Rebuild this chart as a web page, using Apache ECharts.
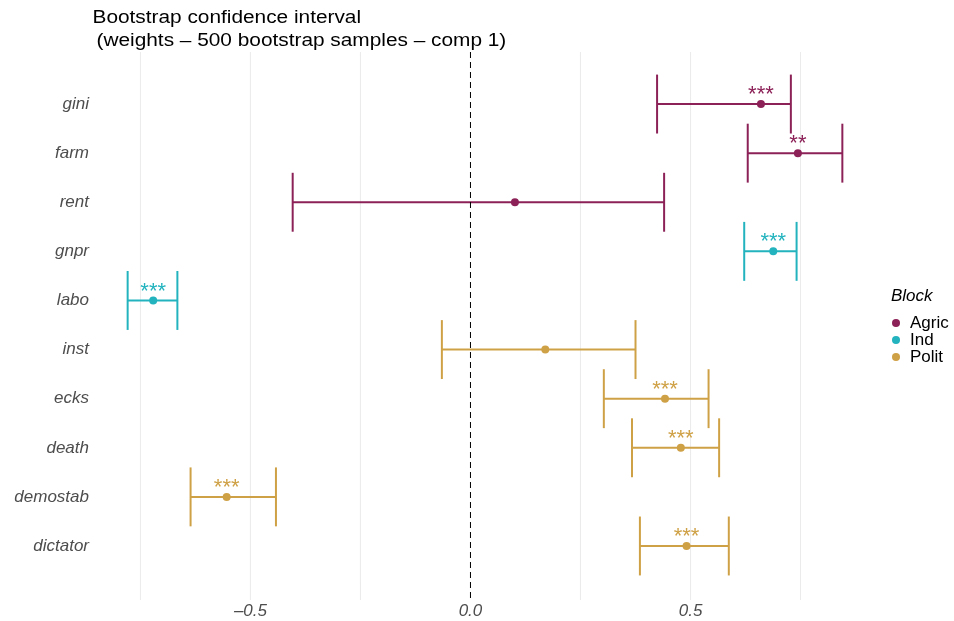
<!DOCTYPE html>
<html>
<head>
<meta charset="utf-8">
<script src="https://cdn.jsdelivr.net/npm/echarts@6/dist/echarts.min.js"></script>
<style>html,body{margin:0;padding:0;background:#fff;}#c{width:954px;height:621px;}</style>
</head>
<body>
<div id="c"></div>
<script>
var categories = ['gini','farm','rent','gnpr','labo','inst','ecks','death','demostab','dictator'];
var blocks = ['Agric','Agric','Agric','Ind','Ind','Polit','Polit','Polit','Polit','Polit'];
var estimates = [0.660, 0.744, 0.101, 0.688, -0.721, 0.170, 0.442, 0.478, -0.554, 0.491];
var lowers = [0.424, 0.630, -0.404, 0.622, -0.779, -0.065, 0.303, 0.367, -0.636, 0.385];
var uppers = [0.728, 0.845, 0.440, 0.741, -0.666, 0.375, 0.541, 0.565, -0.442, 0.587];
var stars = ['***','**','','***','***','','***','***','***','***'];
var blockNames = ['Agric','Ind','Polit'];
var blockColors = {Agric:'#8C2157', Ind:'#22B3BE', Polit:'#CFA146'};
var xTicks = [-0.5, 0.0, 0.5];
var gridLines = [-0.75, -0.5, -0.25, 0.25, 0.5, 0.75];
var refLine = 0;
var titleLine1 = 'Bootstrap confidence interval';
var titleLine2 = '(weights \u2013 500 bootstrap samples \u2013 comp 1)';
var legendTitle = 'Block';

var FONT = '"Liberation Sans", Arial, sans-serif';
var chart = echarts.init(document.getElementById('c'), null, {renderer:'canvas'});

function errRender(params, api){
  var lo = api.value(0), hi = api.value(1), y = api.value(2);
  var p1 = api.coord([lo, y]), p2 = api.coord([hi, y]);
  var h = api.size([0, 1])[1] * 0.6;
  var st = {stroke: api.visual('color'), lineWidth: 2};
  return {type:'group', children:[
    {type:'line', shape:{x1:p1[0], y1:p1[1], x2:p2[0], y2:p2[1]}, style:st},
    {type:'line', shape:{x1:p1[0], y1:p1[1]-h, x2:p1[0], y2:p1[1]+h}, style:st},
    {type:'line', shape:{x1:p2[0], y1:p2[1]-h, x2:p2[0], y2:p2[1]+h}, style:st}
  ]};
}
function vlineRender(color, dash){
  return function(params, api){
    var x = api.coord([api.value(0), 0])[0];
    var cs = params.coordSys;
    return {type:'line', shape:{x1:x, y1:cs.y, x2:x, y2:cs.y+cs.height},
      style:{stroke:color, lineWidth:1, lineDash:dash}};
  };
}

var series = [];
series.push({type:'custom', name:'_grid', silent:true, z:0, animation:false,
  renderItem: vlineRender('#EBEBEB', null),
  data: gridLines.map(function(v){return [v, 0];}), encode:{x:0, y:1}});
blockNames.forEach(function(b){
  var errData = [];
  for (var i=0;i<categories.length;i++){
    if (blocks[i] === b) errData.push([lowers[i], uppers[i], i]);
  }
  series.push({type:'custom', name:b, renderItem:errRender, data:errData, z:2,
    itemStyle:{color:blockColors[b]}, encode:{x:[0,1], y:2}, animation:false});
});
series.push({type:'custom', name:'_ref', silent:true, z:3, animation:false,
  renderItem: vlineRender('#000000', [6,4]),
  data: [[refLine, 0]], encode:{x:0, y:1}});
blockNames.forEach(function(b){
  var ptData = [];
  for (var i=0;i<categories.length;i++){
    if (blocks[i] === b) ptData.push({value:[estimates[i], i], label:{formatter: stars[i]}});
  }
  series.push({type:'scatter', name:b, data:ptData, symbolSize:8, z:4,
    itemStyle:{color:blockColors[b], opacity:1}, animation:false,
    label:{show:true, position:'top', distance:-6, color:blockColors[b],
      fontSize:22, fontFamily:FONT}});
});

chart.setOption({
  backgroundColor:'#fff',
  animation:false,
  graphic:[
    {type:'text', x:92.5, y:18.5, scaleX:1.19, style:{text:titleLine1, font:'17.5px '+FONT, fill:'#000', verticalAlign:'middle'}},
    {type:'text', x:96.5, y:41.5, scaleX:1.19, style:{text:titleLine2, font:'17.5px '+FONT, fill:'#000', verticalAlign:'middle'}},
    {type:'text', x:891, y:296, style:{text:legendTitle, font:'italic 17px '+FONT, fill:'#000', verticalAlign:'middle'}}
  ],
  legend:{
    data: blockNames.map(function(n){return {name:n, icon:'circle'};}),
    orient:'vertical', left:892, top:314.5, padding:0, itemWidth:8, itemHeight:8, itemGap:0,
    textStyle:{fontSize:17, fontFamily:FONT, color:'#000', lineHeight:16, padding:[0,0,0,5]}
  },
  grid:{left:92, right:76, top:52, bottom:21, containLabel:false},
  xAxis:{
    type:'value', min:-0.86, max:0.926,
    axisLine:{show:false}, axisTick:{show:false}, splitLine:{show:false},
    axisLabel:{customValues:xTicks, margin:3, color:'#4D4D4D', fontSize:17, fontStyle:'italic', fontFamily:FONT,
      formatter:function(v){ var s = Math.abs(v).toFixed(1); return v < 0 ? '\u2013' + s : s; }}
  },
  yAxis:{
    type:'value', min:-1.06, max:10.1, inverse:true,
    axisLine:{show:false}, axisTick:{show:false}, splitLine:{show:false},
    axisLabel:{customValues:categories.map(function(c,i){return i;}), margin:3, color:'#4D4D4D', fontSize:17, fontStyle:'italic', fontFamily:FONT,
      formatter:function(v){ return categories[Math.round(v)]; }}
  },
  series: series
});
</script>
</body>
</html>
